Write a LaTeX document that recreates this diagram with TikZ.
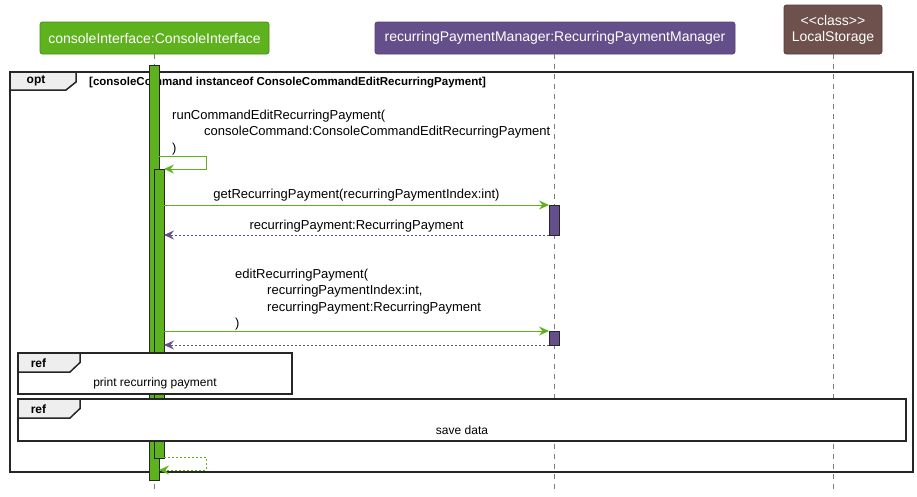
\documentclass[tikz,border=0pt]{standalone}
\usepackage{fontspec}
\setmainfont{Liberation Sans}
\usetikzlibrary{arrows.meta,positioning}

\definecolor{ciGreen}{RGB}{94,178,30}
\definecolor{ciLine}{RGB}{72,140,22}
\definecolor{rpmPurple}{RGB}{101,79,138}
\definecolor{rpmLine}{RGB}{82,64,114}
\definecolor{lsBrown}{RGB}{110,80,76}
\definecolor{lsLine}{RGB}{88,62,58}
\definecolor{tabGray}{RGB}{238,238,238}
\definecolor{lifeGray}{RGB}{125,125,125}

\tikzset{
  participant/.style={draw, rounded corners=2.5pt, line width=0.8pt, text=white,
    inner sep=0pt, align=center, font=\fontsize{14}{16}\selectfont},
  lifeline/.style={draw=lifeGray, line width=0.7pt, dash pattern=on 5pt off 5pt},
  actbar/.style={draw=black!85, line width=1pt},
  call/.style={line width=0.9pt, -{Stealth[length=10pt,width=9pt,inset=3.5pt]}},
  reply/.style={call, dash pattern=on 2pt off 2pt},
  msgtext/.style={inner sep=0pt, text=black, font=\fontsize{13}{16.3}\selectfont},
  framebox/.style={draw=black!85, line width=1.5pt},
  frametab/.style={framebox, fill=tabGray},
  tabtext/.style={inner sep=0pt, font=\fontsize{12}{14}\selectfont\bfseries},
  reftext/.style={inner sep=0pt, font=\fontsize{12}{14}\selectfont}
}

\begin{document}
\begin{tikzpicture}[x=1pt,y=-1pt]
  \useasboundingbox (0,0) rectangle (917,496);

  % participants
  \node[participant, fill=ciGreen, draw=ciLine, minimum width=229pt, minimum height=32pt]
    (ci) at (154.5,38) {consoleInterface:ConsoleInterface};
  \node[participant, fill=rpmPurple, draw=rpmLine, minimum width=360pt, minimum height=32pt]
    (rpm) at (555,38) {recurringPaymentManager:RecurringPaymentManager};
  \node[participant, fill=lsBrown, draw=lsLine, minimum width=98pt, minimum height=49pt]
    (ls) at (833,29.5) {<\kern0pt<class>\kern0pt>\\LocalStorage};

  % lifelines
  \foreach \p/\x in {ci/154,rpm/554,ls/833}{
    \coordinate (\p end) at (\x,490);
    \draw[lifeline] (\p.south -| \p end) -- (\p end);
  }

  % opt frame
  \draw[framebox] (10,72) rectangle (913,472);
  \draw[frametab] (10,72) -- (76,72) -- (76,82) -- (66,90) -- (10,90) -- cycle;
  \node[tabtext] (opt) at (36,81) {opt};
  \node[msgtext, anchor=west, font=\fontsize{11.5}{14}\selectfont\bfseries]
    (guard) at (89,82.5) {[consoleCommand instanceof ConsoleCommandEditRecurringPayment]};

  % activations
  \draw[actbar, fill=ciGreen] (149,65) rectangle (159,480);
  \draw[actbar, fill=ciGreen] (154,169) rectangle (164,458);
  \foreach \ya/\yb in {205/235,331/345}
    \draw[actbar, fill=rpmPurple] (549,\ya) rectangle (559,\yb);

  % runCommandEditRecurringPayment
  \coordinate (runFrom) at (159,156);
  \coordinate (runTurn) at (206,169);
  \coordinate (runTo) at (164,169);
  \draw[call, ciGreen] (runFrom) -| (runTurn) -- (runTo);
  \node[msgtext, anchor=west, align=left] (runTxt) at (172,132.5)
    {runCommandEditRecurringPayment(\\\hspace*{32pt}consoleCommand:ConsoleCommandEditRecurringPayment\\)};

  % getRecurringPayment
  \coordinate (getFrom) at (164,205);
  \coordinate (getTo) at (549,205);
  \coordinate (getBack) at (549,235);
  \coordinate (getBackTo) at (164,235);
  \draw[call, ciGreen] (getFrom) -- node[msgtext, above=3pt] (getTxt)
    {getRecurringPayment(recurringPaymentIndex:int)} (getTo);
  \draw[reply, rpmPurple] (getBack) -- node[msgtext, above=2pt] (getRetTxt)
    {recurringPayment:RecurringPayment} (getBackTo);

  % editRecurringPayment
  \coordinate (editFrom) at (164,331);
  \coordinate (editTo) at (549,331);
  \coordinate (editBack) at (549,345);
  \coordinate (editBackTo) at (164,345);
  \draw[call, ciGreen] (editFrom) -- (editTo);
  \draw[reply, rpmPurple] (editBack) -- (editBackTo);
  \node[msgtext, anchor=west, align=left] (editTxt) at (235,299.5)
    {editRecurringPayment(\\\hspace*{32pt}recurringPaymentIndex:int,\\\hspace*{32pt}recurringPayment:RecurringPayment\\)};

  % ref frames
  \foreach \ya/\yb/\xr/\xc/\lbl in {353/394/292/155/print recurring payment,399/441/906/462/save data}{
    \draw[framebox, fill=white] (18,\ya) rectangle (\xr,\yb);
    \draw[frametab] (18,\ya) -- (80,\ya) -- (80,\ya+9.5) -- (70,\ya+19) -- (18,\ya+19) -- cycle;
    \node[tabtext] (ref\ya) at (38.5,\ya+10.5) {ref};
    \node[reftext] (refTxt\ya) at (\xc,\yb-11) {\lbl};
  }

  % return to consoleInterface
  \coordinate (backFrom) at (164,457);
  \coordinate (backTurn) at (206,470);
  \coordinate (backTo) at (159,470);
  \draw[reply, ciGreen] (backFrom) -| (backTurn) -- (backTo);
\end{tikzpicture}
\end{document}
